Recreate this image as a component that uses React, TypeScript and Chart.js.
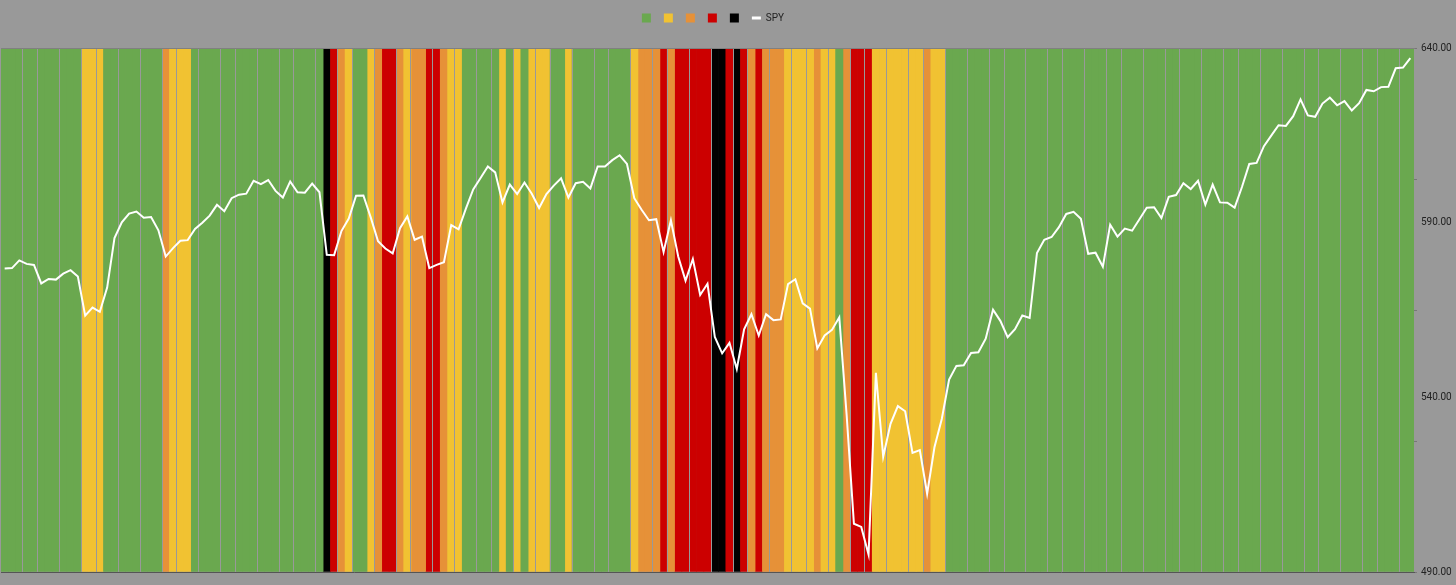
import React, { useEffect, useRef } from 'react';
import { Chart, registerables } from 'chart.js';

Chart.register(...registerables);

// Trading days shown (Oct 16, 2024 – Jul 25, 2025)
const months = ['2024-10', '2024-11', '2024-12', '2025-01', '2025-02', '2025-03', '2025-04', '2025-05', '2025-06', '2025-07'];
const monthDays = [
  [16, 17, 18, 21, 22, 23, 24, 25, 28, 29, 30, 31],
  [1, 4, 5, 6, 7, 8, 11, 12, 13, 14, 15, 18, 19, 20, 21, 22, 25, 26, 27, 29],
  [2, 3, 4, 5, 6, 9, 10, 11, 12, 13, 16, 17, 18, 19, 20, 23, 24, 26, 27, 30, 31],
  [2, 3, 6, 7, 8, 10, 13, 14, 15, 16, 17, 21, 22, 23, 24, 27, 28, 29, 30, 31],
  [3, 4, 5, 6, 7, 10, 11, 12, 13, 14, 18, 19, 20, 21, 24, 25, 26, 27, 28],
  [3, 4, 5, 6, 7, 10, 11, 12, 13, 14, 17, 18, 19, 20, 21, 24, 25, 26, 27, 28, 31],
  [1, 2, 3, 4, 7, 8, 9, 10, 11, 14, 15, 16, 17, 21, 22, 23, 24, 25, 28, 29, 30],
  [1, 2, 5, 6, 7, 8, 9, 12, 13, 14, 15, 16, 19, 20, 21, 22, 23, 27, 28, 29, 30],
  [2, 3, 4, 5, 6, 9, 10, 11, 12, 13, 16, 17, 18, 20, 23, 24, 25, 26, 27, 30],
  [1, 2, 3, 7, 8, 9, 10, 11, 14, 15, 16, 17, 18, 21, 22, 23, 24, 25],
];

// Daily regime colour code per month (G green, Y yellow, O orange, R red, B black)
const regimeByMonth = [
  'GGGGGGGGGGGY',
  'YYGGGGGGGGOYYYGGGGGG',
  'GGGGGGGGGGGGBROYGGYOR',
  'ROYOORROYYGGGGGYGYGY',
  'YYGGYGGGGGGGGYOOORO',
  'RRRRRBBRBROROOOYYYYOY',
  'YGORRRYYYYYYYOYYGGGGG',
  'GGGGGGGGGGGGGGGGGGGGG',
  'GGGGGGGGGGGGGGGGGGGG',
  'GGGGGGGGGGGGGGGGGG',
];

// SPY daily close (dividend-adjusted)
const spyClose = [
  576.9, 577.0, 579.2, 578.2, 577.9, 572.6, 573.9, 573.7, 575.4, 576.4, 574.6, 563.4,
  565.7, 564.5, 571.4, 585.6, 590.1, 592.6, 593.2, 591.4, 591.6, 587.8, 580.3, 582.7, 584.8, 585.0, 588.2, 590.0, 592.0, 595.1, 593.3, 597.0,
  598.0, 598.3, 602.0, 601.0, 602.2, 599.1, 597.2, 601.8, 598.7, 598.6, 601.2, 598.7, 580.8, 580.7, 587.6, 591.2, 597.7, 597.8, 591.5, 584.7, 582.6,
  581.2, 588.4, 591.8, 585.1, 586.0, 577.0, 577.9, 578.7, 589.3, 588.1, 594.0, 599.5, 602.8, 606.1, 604.4, 595.8, 600.9, 598.2, 601.5, 598.3,
  594.2, 598.2, 600.6, 602.7, 597.2, 601.3, 601.7, 599.8, 606.1, 606.1, 607.9, 609.3, 606.8, 597.0, 593.7, 590.7, 591.0, 581.6, 590.7,
  580.3, 573.4, 579.6, 569.3, 572.5, 557.3, 552.6, 555.6, 548.1, 559.5, 563.8, 557.7, 563.8, 562.1, 562.3, 572.4, 573.8, 566.9, 565.4, 554.0, 557.7,
  559.3, 562.9, 535.1, 503.8, 502.9, 495.0, 547.0, 523.0, 532.4, 537.5, 536.0, 524.1, 524.9, 512.4, 525.7, 533.8, 545.1, 549.0, 549.2, 552.7, 552.9,
  556.8, 565.1, 561.9, 557.2, 559.5, 563.4, 562.7, 581.3, 585.1, 585.9, 588.7, 592.5, 593.1, 591.1, 581.1, 581.4, 577.4, 589.4, 586.0, 588.3, 587.7,
  591.0, 594.3, 594.4, 591.3, 597.4, 597.9, 601.3, 599.6, 602.0, 595.2, 600.9, 595.8, 595.7, 594.3, 600.2, 606.8, 607.1, 611.9, 614.9, 617.9,
  617.7, 620.5, 625.3, 620.7, 620.3, 624.1, 625.8, 623.6, 624.8, 622.1, 624.2, 628.0, 627.6, 628.8, 628.9, 634.2, 634.4, 637.1,
];

const regimeCodes = ['G', 'Y', 'O', 'R', 'B'];
const regimeColors = ['#6aa84f', '#f1c232', '#e69138', '#cc0000', '#000000'];
const regimeLabels = ['', '', '', '', ''];
const priceTicks = [490, 540, 590, 640];

const dates = months.flatMap((m, k) => monthDays[k].map((d) => `${m}-${String(d).padStart(2, '0')}`));
const regime = regimeByMonth.join('').split('');

const FONT = 'Roboto, "Liberation Sans", Arial, sans-serif';
const BG = '#999999';
const SEP = '#999999';

// thin separators that appear between some of the day columns (about every 20px)
const sepAt = (i: number) => i > 0 && Math.floor((i - 2.2) / 2.69) !== Math.floor((i - 3.2) / 2.69);

export default function App() {
  const ref = useRef<HTMLCanvasElement | null>(null);

  useEffect(() => {
    const canvas = ref.current;
    if (!canvas) return;

    const barSets: any[] = regimeCodes.map((code, k) => ({
      type: 'bar',
      label: regimeLabels[k],
      data: regime.map((r) => (r === code ? 1 : null)),
      backgroundColor: regimeColors[k],
      borderWidth: 0,
      grouped: false,
      barPercentage: 1,
      categoryPercentage: 1,
      inflateAmount: 0.33,
      yAxisID: 'yBar',
      order: 1,
    }));

    const lineSet: any = {
      type: 'line',
      label: 'SPY',
      data: spyClose,
      borderColor: '#ffffff',
      backgroundColor: '#ffffff',
      borderWidth: 2,
      pointRadius: 0,
      tension: 0,
      yAxisID: 'yPrice',
      order: 0,
    };

    // column separators drawn right after the last bar dataset, under the SPY line
    const separators = {
      id: 'separators',
      afterDatasetDraw(chart: any, args: any) {
        if (args.index !== 0) return;
        const xs = chart.scales.x;
        const area = chart.chartArea;
        const c = chart.ctx;
        const step = xs.width / dates.length;
        c.save();
        c.strokeStyle = SEP;
        c.lineWidth = 1;
        c.beginPath();
        for (let i = 1; i < dates.length; i++) {
          if (!sepAt(i)) continue;
          const x = Math.floor(xs.getPixelForValue(i) - step / 2) + 0.5;
          c.moveTo(x, area.top);
          c.lineTo(x, area.bottom);
        }
        c.stroke();
        c.restore();
      },
    };

    const legendShift = {
      id: 'legendShift',
      afterLayout(chart: any) {
        const lg = chart.legend;
        if (lg) {
          lg.left += 5.5;
          lg.right += 5.5;
        }
      },
    };

    const chart = new Chart(canvas, {
      data: { labels: dates, datasets: [...barSets, lineSet] },
      plugins: [legendShift, separators],
      options: {
        responsive: false,
        animation: false,
        events: [],
        layout: { padding: { left: 1, top: 5, right: 0, bottom: 13 } },
        plugins: {
          legend: {
            position: 'top',
            fullSize: false,
            labels: {
              usePointStyle: true,
              pointStyleWidth: 9,
              boxWidth: 9,
              boxHeight: 9,
              padding: 8,
              color: '#222222',
              font: { family: FONT, size: 10 },
              generateLabels: (ch: any) =>
                ch.data.datasets.map((ds: any, i: number) => ({
                  text: ds.label,
                  datasetIndex: i,
                  hidden: false,
                  fillStyle: i < 5 ? regimeColors[i] : '#ffffff',
                  strokeStyle: i < 5 ? regimeColors[i] : '#ffffff',
                  lineWidth: i < 5 ? 0 : 3,
                  pointStyle: i < 5 ? 'rect' : 'line',
                  fontColor: '#222222',
                })),
            },
          },
          tooltip: { enabled: false },
        },
        scales: {
          x: {
            type: 'category',
            position: 'bottom',
            offset: true,
            grid: { display: false },
            ticks: { display: false },
            border: { display: true, color: '#555555', width: 1, z: 1 },
            afterFit: (s: any) => { s.height = 0; },
          },
          xTop: {
            type: 'category',
            position: 'top',
            offset: true,
            grid: { display: false },
            ticks: { display: false },
            border: { display: true, color: '#808080', width: 1, z: 1 },
            afterFit: (s: any) => { s.height = 15; },
          },
          yBar: {
            position: 'right',
            weight: 0,
            min: 0,
            max: 1,
            ticks: { display: false, stepSize: 0.25 },
            grid: { drawOnChartArea: false, drawTicks: true, tickLength: 3, color: '#777777' },
            border: { display: false },
            afterFit: (s: any) => { s.width = 3; },
          },
          yPrice: {
            position: 'right',
            weight: 1,
            min: priceTicks[0],
            max: priceTicks[priceTicks.length - 1],
            afterBuildTicks: (s: any) => { s.ticks = priceTicks.map((v) => ({ value: v })); },
            ticks: {
              color: '#222222',
              font: { family: FONT, size: 10 },
              padding: 4,
              callback: (v: any) => Number(v).toFixed(2),
            },
            grid: { display: false, drawTicks: false },
            border: { display: false },
            afterFit: (s: any) => { s.width = 39; },
          },
        },
      } as any,
    } as any);

    return () => chart.destroy();
  }, []);

  return (
    <div style={{ position: 'fixed', left: 0, top: 0, width: 1456, height: 585, background: BG }}>
      <canvas ref={ref} width={1456} height={585} style={{ display: 'block' }} />
    </div>
  );
}
